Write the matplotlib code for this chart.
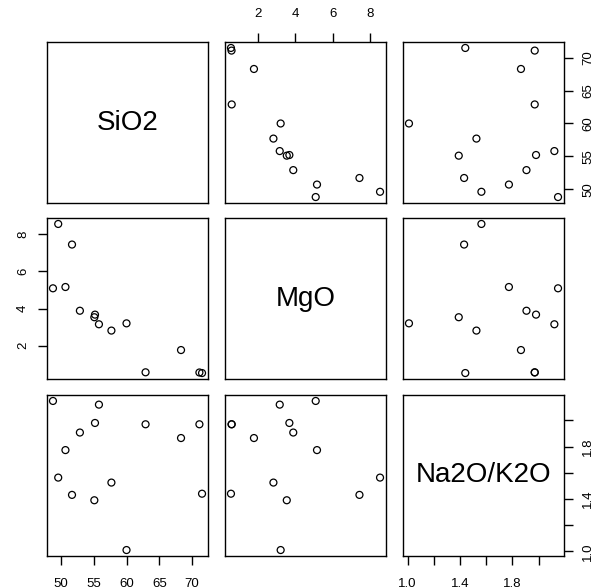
import numpy as np
import matplotlib.pyplot as plt

plt.rcParams['font.family'] = ['Liberation Sans', 'DejaVu Sans']

# values
names = ["SiO2", "MgO", "Na2O/K2O"]
sio2 = [71.5, 71.1, 68.3, 62.9, 60.0, 57.7, 55.8, 55.2, 55.1, 52.9, 51.7, 50.7, 49.6, 48.8]
mgo = [0.52, 0.55, 1.76, 0.56, 3.2, 2.81, 3.15, 3.67, 3.53, 3.88, 7.45, 5.16, 8.56, 5.09]
na2o_k2o = [1.44, 1.97, 1.865, 1.97, 1.01, 1.525, 2.12, 1.98, 1.39, 1.907, 1.431, 1.773, 1.563, 2.148]

ticks = [[50, 55, 60, 65, 70], [2, 4, 6, 8], [1.0, 1.2, 1.4, 1.6, 1.8, 2.0]]
ticklabels = [["50", "55", "60", "65", "70"], ["2", "4", "6", "8"],
              ["1.0", "", "1.4", "", "1.8", ""]]

data = [np.array(sio2), np.array(mgo), np.array(na2o_k2o)]
lims = []
for d in data:
    pad = 0.04 * (d.max() - d.min())
    lims.append((d.min() - pad, d.max() + pad))

fig = plt.figure(figsize=(5.97, 5.88), dpi=100)
W, H = 597, 588
col_x = [47, 225, 403]
row_y = [42, 218, 395]
size = 161

for i in range(3):
    for j in range(3):
        ax = fig.add_axes([col_x[j] / W, 1 - (row_y[i] + size) / H, size / W, size / H])
        ax.set_xlim(lims[j])
        ax.set_ylim(lims[i])
        for s in ax.spines.values():
            s.set_linewidth(1.0)
        ax.tick_params(direction='out', length=6.5, width=1, labelsize=9.5)
        ax.tick_params(axis='x', pad=9)
        ax.tick_params(axis='y', pad=6.5)
        ax.set_xticks([])
        ax.set_yticks([])
        if i == j:
            ax.text(0.5, 0.5, names[i], transform=ax.transAxes, ha='center',
                    va='center', fontsize=20)
        else:
            ax.scatter(data[j], data[i], s=25, facecolors='none',
                       edgecolors='black', linewidths=0.9)
        # R pairs axis placement
        if i == 0 and j % 2 == 1:
            ax.set_xticks(ticks[j], ticklabels[j])
            ax.xaxis.tick_top()
        if i == 2 and j % 2 == 0:
            ax.set_xticks(ticks[j], ticklabels[j])
        if j == 0 and i % 2 == 1:
            ax.set_yticks(ticks[i], ticklabels[i])
            plt.setp(ax.get_yticklabels(), rotation=90, va='center')
        if j == 2 and i % 2 == 0:
            ax.set_yticks(ticks[i], ticklabels[i])
            ax.yaxis.tick_right()
            plt.setp(ax.get_yticklabels(), rotation=90, va='center')

fig.savefig("out.png", dpi=100)
